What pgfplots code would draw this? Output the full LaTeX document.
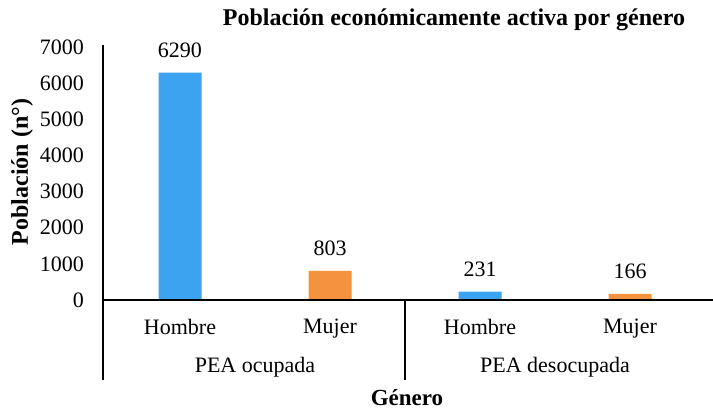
\documentclass[border=0pt]{standalone}
\usepackage{fontspec}
\setmainfont{Liberation Serif}
\usepackage{pgfplots}
\pgfplotsset{compat=1.18}
\definecolor{barblue}{HTML}{3BA3F0}
\definecolor{barorange}{HTML}{F5923E}
\pgfplotsset{/pgf/number format/1000 sep={}, /pgf/number format/assume math mode=true}
\begin{document}
\begin{tikzpicture}
\path[use as bounding box] (-52.5pt,-55pt) rectangle (304pt,150pt);
\begin{axis}[
    at={(0,0)}, anchor=south west,
    scale only axis, width=300pt, height=126.5pt,
    xmin=-0.5, xmax=3.5, ymin=0, ymax=7000,
    axis x line=bottom, axis y line=left,
    axis line style={draw=none},
    xtick={0,1,2,3}, xticklabels={Hombre,Mujer,Hombre,Mujer},
    ytick={0,1000,...,7000},
    major tick length=0pt,
    ticklabel style={font=\fontsize{11}{13}\selectfont},
    yticklabel style={xshift=-7pt},
    xticklabel style={yshift=-6pt},
    ybar, bar width=21.5pt,
    nodes near coords,
    nodes near coords style={font=\fontsize{11}{13}\selectfont, yshift=4pt},
    clip=false,
]
\addplot[fill=barblue, draw=none, bar shift=0pt] coordinates {(0,6290) (2,231)};
\addplot[fill=barorange, draw=none, bar shift=0pt] coordinates {(1,803) (3,166)};
\end{axis}
% axis lines and category separators
\draw[line width=0.8pt] (-1pt,127.5pt) -- (-1pt,-40pt);
\draw[line width=0.8pt] (-1pt,0) -- (304pt,0);
\draw[line width=0.6pt] (150pt,0) -- (150pt,-40pt);
% group labels
\node[font=\fontsize{11}{13}\selectfont] at (75pt,-33.5pt) {PEA ocupada};
\node[font=\fontsize{11}{13}\selectfont] at (225pt,-33.5pt) {PEA desocupada};
\node[font=\bfseries\fontsize{11.5}{14}\selectfont] at (151pt,-49pt) {Género};
\node[rotate=90, font=\bfseries\fontsize{12}{14}\selectfont] at (-41.5pt,64pt) {Población (n°)};
\node[font=\bfseries\fontsize{12}{14}\selectfont] at (174.5pt,140pt) {Población económicamente activa por género};
\end{tikzpicture}
\end{document}
